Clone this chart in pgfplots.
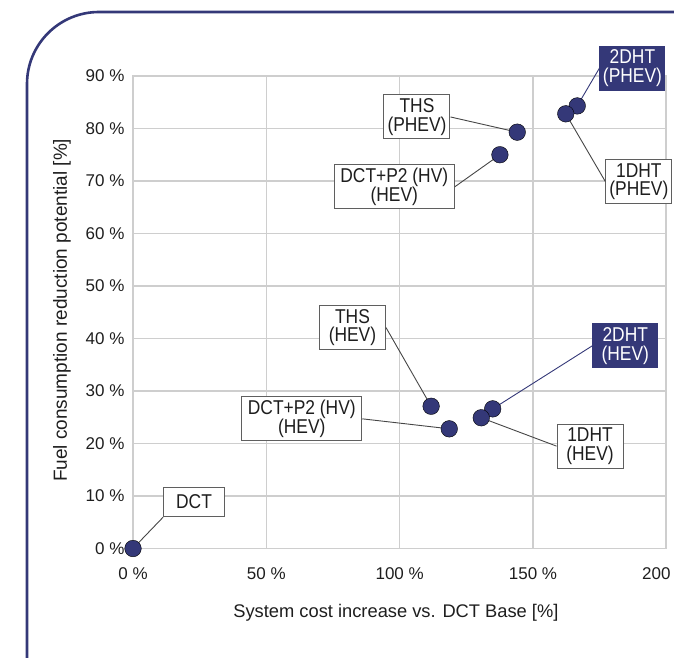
\documentclass[border=0pt]{standalone}
\usepackage{pgfplots}
\pgfplotsset{compat=1.18}
\usepackage{fontspec}
\setmainfont{Liberation Sans}
\newfontfamily\boxfont[FakeStretch=0.87]{Liberation Sans}
\definecolor{navy}{RGB}{52,56,120}
\definecolor{gridc}{RGB}{206,206,206}
\definecolor{boxc}{RGB}{95,95,95}
\definecolor{conc}{RGB}{70,70,70}
\definecolor{txt}{RGB}{30,30,30}
\begin{document}
\begin{tikzpicture}[x=1pt,y=1pt,
  lbl/.style={draw=boxc, line width=1pt, fill=white, align=center, inner sep=0pt,
    font=\boxfont\fontsize{20}{18.5}\selectfont, text=txt, minimum height=44pt},
  flbl/.style={lbl, draw=navy, fill=navy, text=white},
  conn/.style={draw=conc, line width=0.9pt},
  fconn/.style={draw=navy, line width=0.9pt}]
\path[use as bounding box] (0,0) rectangle (674,657);
\clip (0,0) rectangle (674,657);
\draw[navy, line width=2.6pt, rounded corners=72pt] (27,-120) rectangle (780,645);
\begin{axis}[
  at={(133pt,108.5pt)}, anchor=south west,
  scale only axis, width=533.3pt, height=472.5pt,
  xmin=0, xmax=200, ymin=0, ymax=90,
  xtick={0,50,100,150,200},
  xticklabels={0 \%,50 \%,100 \%,150 \%,200 \%},
  ytick={0,10,20,30,40,50,60,70,80,90},
  yticklabels={0 \%,10 \%,20 \%,30 \%,40 \%,50 \%,60 \%,70 \%,80 \%,90 \%},
  grid=major, major grid style={draw=gridc, line width=1.2pt},
  axis line style={draw=gridc, line width=1.8pt},
  tick style={draw=none},
  clip=false,
  ticklabel style={font=\fontsize{17}{19}\selectfont, text=txt},
  xticklabel style={yshift=-16pt},
  yticklabel style={xshift=-5pt},
  xlabel={System cost increase vs. DCT Base [\%]},
  ylabel={Fuel consumption reduction potential [\%]},
  xlabel style={font=\fontsize{18.3}{20}\selectfont, text=txt, at={(axis description cs:0.493,-0.1456)}, anchor=base},
  ylabel style={font=\fontsize{19}{21}\selectfont, text=txt, at={(axis description cs:-0.124,0.504)}, anchor=base},
]
\addplot[only marks, mark=*, mark size=8.3pt, mark options={draw=none, fill=navy}]
  coordinates {(0,0) (111.8,27.1) (118.6,22.8) (134.9,26.6) (130.6,24.9)
               (137.6,75.0) (144.1,79.3) (166.6,84.3) (162.3,82.8)};

\node[lbl, minimum width=66pt] (thsp) at (axis cs:106.5,82.2) {THS\\(PHEV)};
\draw[conn] (thsp.east) -- (axis cs:144.1,79.3);
\node[lbl, minimum width=120pt] (dctp) at (axis cs:98.0,68.9) {DCT+P2 (HV)\\(HEV)};
\draw[conn] (dctp.east) -- (axis cs:137.6,75.0);
\node[lbl, minimum width=66pt] (d1p) at (axis cs:189.7,69.9) {1DHT\\(PHEV)};
\draw[conn] (d1p.west) -- (axis cs:162.3,82.8);
\node[flbl, minimum width=65pt] (d2p) at (axis cs:187.3,91.5) {2DHT\\(PHEV)};
\draw[fconn] (d2p.west) -- (axis cs:166.6,84.3);

\node[lbl, minimum width=66pt] (thsh) at (axis cs:82.3,42.1) {THS\\(HEV)};
\draw[conn] (thsh.east) -- (axis cs:111.8,27.1);
\node[lbl, minimum width=120pt] (dcth) at (axis cs:63.3,24.7) {DCT+P2 (HV)\\(HEV)};
\draw[conn] (dcth.east) -- (axis cs:118.6,22.8);
\node[flbl, minimum width=65pt] (d2h) at (axis cs:184.6,38.6) {2DHT\\(HEV)};
\draw[fconn] (d2h.west) -- (axis cs:134.9,26.6);
\node[lbl, minimum width=66pt] (d1h) at (axis cs:171.4,19.5) {1DHT\\(HEV)};
\draw[conn] (d1h.west) -- (axis cs:130.6,24.9);

\node[lbl, minimum width=61pt, minimum height=29.5pt] (dct) at (axis cs:22.9,8.86) {DCT};
\draw[conn] (dct.south west) -- (axis cs:0,0);
\end{axis}
\end{tikzpicture}
\end{document}
